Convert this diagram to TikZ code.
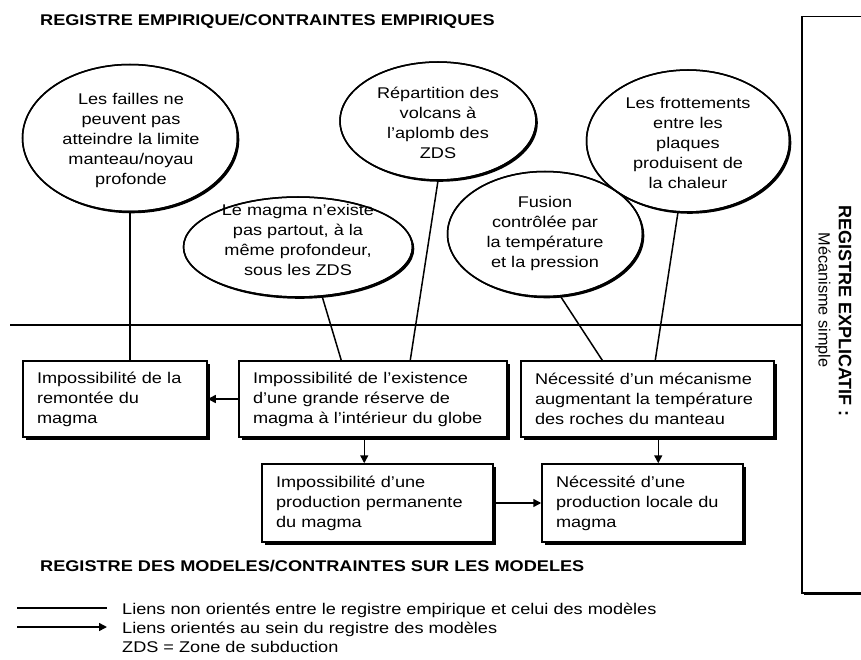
\documentclass[tikz,border=0pt]{standalone}
\usepackage{fontspec}
\setmainfont{Liberation Sans}[FakeStretch=1.17]
\newfontfamily\rotfont{Liberation Sans}[FakeStretch=1.0]
\newfontfamily\rotbfont{Liberation Sans Bold}[FakeStretch=1.0]
\usetikzlibrary{shapes.geometric,shadows,arrows.meta}
\begin{document}
\begin{tikzpicture}[x=1pt,y=-1pt,
  every node/.style={font=\fontsize{15.5}{20}\selectfont},
  bubble/.style={ellipse, draw, fill=white, line width=1.5pt, inner sep=0pt,
    drop shadow={shadow xshift=1.8pt, shadow yshift=-1.8pt, opacity=1, fill=black}},
  outline/.style={line width=1.5pt},
  btext/.style={align=center, inner sep=0pt},
  mbox/.style={rectangle, draw, fill=white, line width=1.5pt, align=left,
    inner xsep=14pt, inner ysep=0pt,
    drop shadow={shadow xshift=2.5pt, shadow yshift=-2.5pt, opacity=1, fill=black}},
  link/.style={line width=1.5pt},
  arr/.style={line width=1.5pt, -{Triangle[length=8pt,width=8pt]}},
  title/.style={font=\fontsize{15.5}{20}\selectfont\bfseries, anchor=base west, inner sep=0pt},
  legtext/.style={anchor=base west, inner sep=0pt},
]
\useasboundingbox (0,0) rectangle (861,660);
\clip (0,0) rectangle (861,660);

% titles
\node[title] (t-emp) at (40,26) {REGISTRE EMPIRIQUE/CONTRAINTES EMPIRIQUES};
\node[title] (t-mod) at (40,571) {REGISTRE DES MODELES/CONTRAINTES SUR LES MODELES};

% right box
\node[draw, line width=1.5pt, fill=white, minimum width=100pt, minimum height=576pt,
  anchor=north west, inner sep=0pt,
  drop shadow={shadow xshift=2.5pt, shadow yshift=-2.5pt, opacity=1, fill=black}] (rb) at (801,16) {};
\node[rotate=-90, inner sep=0pt, font=\rotbfont\fontsize{18}{20}\selectfont] (rb-t1) at (845,311) {REGISTRE EXPLICATIF :};
\node[rotate=-90, inner sep=0pt, font=\rotfont\fontsize{16.3}{20}\selectfont] (rb-t2) at (823,300) {Mécanisme simple};

% separating line
\coordinate (hl) at (10,325);
\draw[line width=2pt] (hl) -- (hl -| rb.west);

% ellipses
\node[bubble, minimum width=215pt, minimum height=147pt] (e1) at (130,138) {};
\node[bubble, minimum width=196pt, minimum height=118pt] (e3) at (438,121) {};
\node[bubble, minimum width=229pt, minimum height=100pt] (e2) at (298,247) {};
\node[bubble, minimum width=195pt, minimum height=125pt] (e4) at (545,234) {};
\node[bubble, minimum width=203pt, minimum height=142pt] (e5) at (688,141) {};
% outlines again so overlapping arcs stay visible
\draw[outline] (e1.center) ellipse [x radius=107.5pt, y radius=73.5pt];
\draw[outline] (e2.center) ellipse [x radius=114.5pt, y radius=50pt];
\draw[outline] (e3.center) ellipse [x radius=98pt, y radius=59pt];
\draw[outline] (e4.center) ellipse [x radius=97.5pt, y radius=62.5pt];
\draw[outline] (e5.center) ellipse [x radius=101.5pt, y radius=71pt];

\node[btext] (t1) at (131,140) {Les failles ne\\peuvent pas\\atteindre la limite\\manteau/noyau\\profonde};
\node[btext] (t2) at (298,240) {Le magma n'existe\\pas partout, à la\\même profondeur,\\sous les ZDS};
\node[btext] (t3) at (438,123) {Répartition des\\volcans à\\l'aplomb des\\ZDS};
\node[btext] (t4) at (545,233) {Fusion\\contrôlée par\\la température\\et la pression};
\node[btext] (t5) at (688,143) {Les frottements\\entre les\\plaques\\produisent de\\la chaleur};

% boxes
\node[mbox, text width=156pt, minimum height=76pt] (A) at (115,399) {Impossibilité de la\\remontée du\\magma};
\node[mbox, text width=240pt, minimum height=76pt] (B) at (373,399) {Impossibilité de l'existence\\d'une grande réserve de\\magma à l'intérieur du globe};
\node[mbox, text width=225pt, minimum height=76pt] (C) at (647.5,399) {Nécessité d'un mécanisme\\augmentant la température\\des roches du manteau};
\node[mbox, text width=203pt, minimum height=78pt] (D) at (377.5,503) {Impossibilité d'une\\production permanente\\du magma};
\node[mbox, text width=173pt, minimum height=78pt] (E) at (642.5,503) {Nécessité d'une\\production locale du\\magma};

% non-oriented links
\draw[link] (e1.south) -- (e1.south |- A.north);
\coordinate (b1) at ([xshift=103pt]B.north west);
\coordinate (b2) at ([xshift=172pt]B.north west);
\coordinate (c1) at ([xshift=82pt]C.north west);
\coordinate (c2) at ([xshift=135pt]C.north west);
\draw[link] (e2.-64) -- (b1);
\draw[link] (e3.south) -- (b2);
\draw[link] (e4.-76) -- (c1);
\draw[link] (e5.-98) -- (c2);

% oriented links
\draw[arr] (B.west) -- (A.east);
\coordinate (bd) at ([xshift=126pt]B.south west);
\draw[arr] (bd) -- (bd |- D.north);
\coordinate (ce) at ([xshift=138pt]C.south west);
\draw[arr] (ce) -- (ce |- E.north);
\draw[arr] (D.east) -- (E.west);

% legend
\coordinate (l1a) at (17,608); \coordinate (l1b) at (107,608);
\coordinate (l2a) at (17,627); \coordinate (l2b) at (107,627);
\draw[link] (l1a) -- (l1b);
\draw[arr] (l2a) -- (l2b);
\node[legtext] (lg1) at (122,614) {Liens non orientés entre le registre empirique et celui des modèles};
\node[legtext] (lg2) at (122,633) {Liens orientés au sein du registre des modèles};
\node[legtext] (lg3) at (122,652) {ZDS = Zone de subduction};
\end{tikzpicture}
\end{document}
